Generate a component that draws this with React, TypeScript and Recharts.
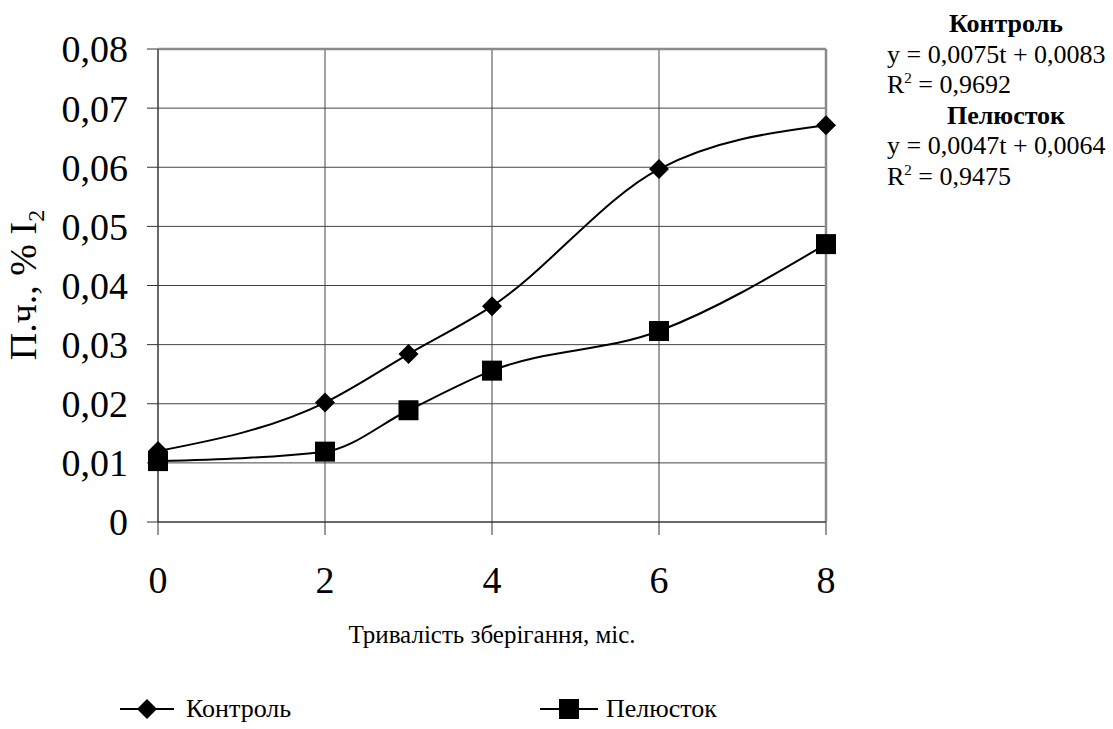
import { LineChart, Line, XAxis, YAxis, CartesianGrid, ReferenceLine, Legend, Label } from "recharts";

const months = [0, 2, 3, 4, 6, 8];
const kontrol = [0.012, 0.0202, 0.0284, 0.0365, 0.0597, 0.0671];
const pelyustok = [0.0103, 0.0119, 0.0189, 0.0256, 0.0323, 0.047];
const xTicks = [0, 2, 4, 6, 8];
const yTicks = [0, 0.01, 0.02, 0.03, 0.04, 0.05, 0.06, 0.07, 0.08];

const data = months.map((t, i) => ({ t, kontrol: kontrol[i], pelyustok: pelyustok[i] }));

const FONT = "Liberation Serif, Times New Roman, serif";

const fmtY = (v: number) => (v === 0 ? "0" : v.toFixed(2).replace(".", ","));

const Diamond = (props: any) => {
  const { cx, cy } = props;
  if (cx == null || cy == null) return null;
  const r = 10;
  return <path d={`M${cx},${cy - r}L${cx + r},${cy}L${cx},${cy + r}L${cx - r},${cy}Z`} fill="#000" />;
};

const Square = (props: any) => {
  const { cx, cy } = props;
  if (cx == null || cy == null) return null;
  return <rect x={cx - 10} y={cy - 10} width={20} height={20} fill="#000" />;
};

const YTitle = () => (
  <text transform="translate(36,285) rotate(-90)" textAnchor="middle" fontFamily={FONT} fontSize={38} fill="#000">
    П.ч., % I<tspan fontSize={24} dy={8}>2</tspan>
  </text>
);

const LegendBox = () => (
  <div style={{ position: "relative", height: 30, fontFamily: FONT, fontSize: 26, color: "#000" }}>
    <svg width={60} height={30} style={{ position: "absolute", left: 118, top: 0 }}>
      <line x1={2} y1={15} x2={56} y2={15} stroke="#000" strokeWidth={2} />
      <path d="M29,5L39,15L29,25L19,15Z" fill="#000" />
    </svg>
    <span style={{ position: "absolute", left: 186, top: 0, lineHeight: "30px" }}>Контроль</span>
    <svg width={62} height={30} style={{ position: "absolute", left: 538, top: 0 }}>
      <line x1={2} y1={15} x2={60} y2={15} stroke="#000" strokeWidth={2} />
      <rect x={21} y={5} width={20} height={20} fill="#000" />
    </svg>
    <span style={{ position: "absolute", left: 606, top: 0, lineHeight: "30px" }}>Пелюсток</span>
  </div>
);

export default function App() {
  return (
    <div
      style={{
        position: "absolute",
        left: 0,
        top: 0,
        width: 1113,
        height: 729,
        background: "#fff",
        fontFamily: FONT,
      }}
    >
      <LineChart
        width={1113}
        height={729}
        data={data}
        margin={{ top: 49, right: 287, left: 58, bottom: 147 }}
        style={{ fontFamily: FONT }}
      >
        <CartesianGrid stroke="#444" strokeWidth={1} />
        <XAxis
          dataKey="t"
          type="number"
          domain={[0, 8]}
          ticks={xTicks}
          height={60}
          tickSize={13}
          tickMargin={31}
          stroke="#333"
          tick={{ fill: "#000", fontSize: 38, fontFamily: FONT }}
        >
          <Label
            value="Тривалість зберігання, міс."
            position="bottom"
            offset={43}
            fontFamily={FONT}
            fontSize={25}
            fill="#000"
          />
        </XAxis>
        <YAxis
          type="number"
          domain={[0, 0.08]}
          ticks={yTicks}
          width={100}
          tickSize={11}
          tickMargin={19}
          stroke="#333"
          tickFormatter={fmtY}
          tick={{ fill: "#000", fontSize: 38, fontFamily: FONT }}
        >
          <Label content={<YTitle />} />
        </YAxis>
        <ReferenceLine y={0.08} stroke="#8a8a8a" strokeWidth={2.5} />
        <ReferenceLine x={8} stroke="#8a8a8a" strokeWidth={2.5} />
        <Line
          type="monotone"
          dataKey="kontrol"
          name="Контроль"
          stroke="#000"
          strokeWidth={2}
          dot={<Diamond />}
          activeDot={false}
          isAnimationActive={false}
        />
        <Line
          type="monotone"
          dataKey="pelyustok"
          name="Пелюсток"
          stroke="#000"
          strokeWidth={2}
          dot={<Square />}
          activeDot={false}
          isAnimationActive={false}
        />
        <Legend
          layout="horizontal"
          verticalAlign="middle"
          content={<LegendBox />}
          wrapperStyle={{ left: 0, top: 694, width: 1113, height: 30 }}
        />
      </LineChart>
      <div
        style={{
          position: "absolute",
          left: 887,
          top: 9,
          width: 226,
          fontSize: 26,
          lineHeight: "30.5px",
          color: "#000",
        }}
      >
        <div style={{ fontWeight: "bold", paddingLeft: 12, textAlign: "center" }}>Контроль</div>
        <div>y = 0,0075t + 0,0083</div>
        <div>
          R<sup style={{ fontSize: 15, lineHeight: 0 }}>2</sup> = 0,9692
        </div>
        <div style={{ fontWeight: "bold", paddingLeft: 12, textAlign: "center" }}>Пелюсток</div>
        <div>y = 0,0047t + 0,0064</div>
        <div>
          R<sup style={{ fontSize: 15, lineHeight: 0 }}>2</sup> = 0,9475
        </div>
      </div>
    </div>
  );
}
